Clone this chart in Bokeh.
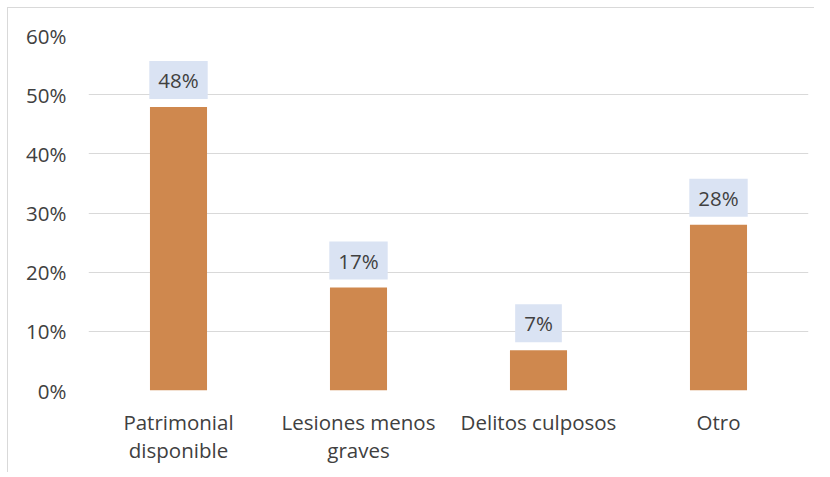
from bokeh.plotting import figure
from bokeh.models import FactorRange, Range1d, FixedTicker, NumeralTickFormatter, ColumnDataSource
from bokeh.core.properties import value
from bokeh.embed import file_html
from bokeh.resources import INLINE

categories = ["Patrimonial\ndisponible", "Lesiones menos\ngraves", "Delitos culposos", "Otro"]
shares = [0.479, 0.174, 0.068, 0.28]
share_labels = ["48%", "17%", "7%", "28%"]
y_ticks = [0, 0.1, 0.2, 0.3, 0.4, 0.5, 0.6]

FONT = "Open Sans"
TXT = "#404040"

src = ColumnDataSource(dict(cat=categories, val=shares, lab=share_labels))

p = figure(frame_width=720, frame_height=355, output_backend="svg", toolbar_location=None,
           x_range=FactorRange(*categories), y_range=Range1d(0, 0.6))
p.min_border_left = 80
p.min_border_top = 27
p.min_border_right = 6
p.min_border_bottom = 82
p.outline_line_color = None
p.background_fill_color = "white"
p.border_fill_color = "white"
p.styles = {"margin-left": "7px", "margin-top": "7px",
            "border-top": "1px solid #d9d9d9", "border-left": "1px solid #d9d9d9"}

p.vbar(x="cat", top="val", width=0.317, source=src, fill_color="#CF884E", line_color=None)

p.text(x="cat", y="val", text="lab", source=src, y_offset=-8,
       text_align="center", text_baseline="bottom",
       text_font=value(FONT), text_font_size="20.5px", text_color=TXT,
       background_fill_color="#DAE3F3",
       padding=dict(left=9, right=9, top=5, bottom=5))

p.yaxis.ticker = FixedTicker(ticks=y_ticks)
p.yaxis.formatter = NumeralTickFormatter(format="0%")
p.ygrid.ticker = FixedTicker(ticks=y_ticks)
p.ygrid.grid_line_color = "#d9d9d9"
p.ygrid.grid_line_width = 1
p.xgrid.grid_line_color = None

for ax in (p.xaxis[0], p.yaxis[0]):
    ax.axis_line_color = None
    ax.major_tick_line_color = None
    ax.minor_tick_line_color = None
    ax.major_label_text_font = FONT
    ax.major_label_text_font_size = "20.5px"
    ax.major_label_text_color = TXT

p.yaxis.major_label_standoff = 16
p.xaxis.major_label_standoff = 11
p.xaxis.major_label_text_line_height = 1.0

open("out.html", "w").write(file_html(p, INLINE))
